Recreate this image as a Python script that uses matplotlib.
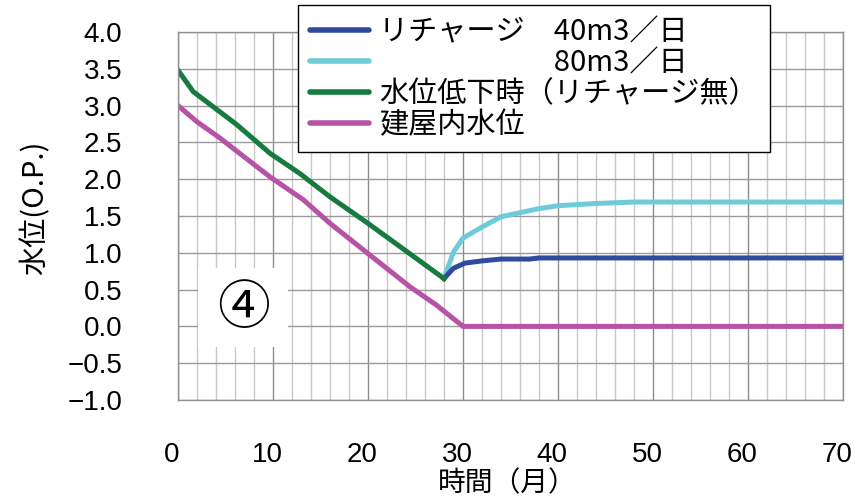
import numpy as np
import matplotlib
matplotlib.use('Agg')
import matplotlib.pyplot as plt
import matplotlib.transforms as mtransforms
from matplotlib.patches import Rectangle
from matplotlib.ticker import MultipleLocator

jp = ['Noto Sans CJK JP', 'DejaVu Sans']
num = ['Liberation Sans', 'DejaVu Sans']

# water level without recharge
green_x = [0, 1.6, 6.2, 9.7, 12.8, 16, 20, 28]
green_y = [3.48, 3.19, 2.74, 2.35, 2.08, 1.76, 1.40, 0.65]

# building inner water level
purple_x = [0, 2, 4.4, 9.7, 13.2, 16, 20, 24.4, 27.2, 30, 70]
purple_y = [3.0, 2.78, 2.56, 2.03, 1.72, 1.40, 0.99, 0.54, 0.29, 0.0, 0.0]

# recharge 40 m3/day
blue_x = [28, 29, 30.2, 32, 34, 37, 38, 70]
blue_y = [0.65, 0.79, 0.86, 0.89, 0.915, 0.915, 0.93, 0.93]

# recharge 80 m3/day
cyan_x = [28, 29, 30, 32, 34, 36, 38, 40, 44, 48, 70]
cyan_y = [0.65, 1.01, 1.20, 1.35, 1.49, 1.545, 1.60, 1.64, 1.67, 1.69, 1.69]

labels = ['リチャージ　40m3／日', '　　　　　　80m3／日',
          '水位低下時（リチャージ無）', '建屋内水位']
colors = ['#2e4b9e', '#6fcbd8', '#177a3e', '#b653a6']

yticks = np.arange(-1.0, 4.01, 0.5)
xticks = np.arange(0, 71, 10)

fig = plt.figure(figsize=(8.68, 5.01), dpi=100)
ax = fig.add_axes([178/868, 101/501, 665/868, 368/501])

ax.set_xlim(0, 70)
ax.set_ylim(-1.0, 4.0)
ax.xaxis.set_minor_locator(MultipleLocator(2))
ax.set_axisbelow(True)
ax.grid(which='minor', axis='x', color='#c8c8c8', lw=1.0)
ax.grid(which='major', axis='x', color='#8c8c8c', lw=1.0)
ax.grid(which='major', axis='y', color='#9a9a9a', lw=1.0)
for s in ax.spines.values():
    s.set_color('#909090')
    s.set_linewidth(1.0)
ax.tick_params(which='both', length=0)
ax.tick_params(axis='x', pad=30)
ax.tick_params(axis='y', pad=40)
ax.set_yticks(yticks)
ax.set_yticklabels(['%.1f' % v if v >= 0 else '\u2212%.1f' % -v for v in yticks],
                   family=num, fontsize=20)
ax.set_xticks(xticks)
ax.set_xticklabels([str(v) for v in xticks], family=num, fontsize=20)
off = mtransforms.ScaledTranslation(-6/100, 0, fig.dpi_scale_trans)
for t in ax.get_xticklabels():
    t.set_transform(t.get_transform() + off)

# white patch behind the case number
ax.add_patch(Rectangle((2.1, -0.28), 9.5, 1.07, facecolor='white', edgecolor='none', zorder=1))
ax.text(6.9, 0.24, '④', family=jp, fontsize=38, ha='center', va='center', zorder=3)

lw = 3.6
l1, = ax.plot(blue_x, blue_y, color=colors[0], lw=lw, zorder=2.2)
l2, = ax.plot(cyan_x, cyan_y, color=colors[1], lw=lw, zorder=2.1)
l3, = ax.plot(green_x, green_y, color=colors[2], lw=lw, zorder=2.3)
l4, = ax.plot(purple_x, purple_y, color=colors[3], lw=lw, zorder=2)

ax.set_xlabel('時間（月）', family=jp, fontsize=20)
ax.xaxis.set_label_coords((507-178)/665, -(483-400)/368)
ax.xaxis.label.set_va('center')
ax.set_ylabel('水位(O.P.)', family=jp, fontsize=21)
ax.yaxis.set_label_coords((35-178)/665, (400-208)/368)
ax.yaxis.label.set_va('center')

leg = fig.legend([l1, l2, l3, l4], labels, loc='upper left',
                 bbox_to_anchor=(298/868, 1 - 5/501), borderaxespad=0,
                 prop={'family': jp, 'size': 21}, frameon=True, fancybox=False,
                 edgecolor='black', framealpha=1, handlelength=2.0,
                 labelspacing=0.03, borderpad=0.42, handletextpad=0.35)
leg.get_frame().set_linewidth(1.0)
for h in leg.get_lines():
    h.set_linewidth(4)
    h.set_solid_capstyle('round')

fig.savefig('out.png', dpi=100)
